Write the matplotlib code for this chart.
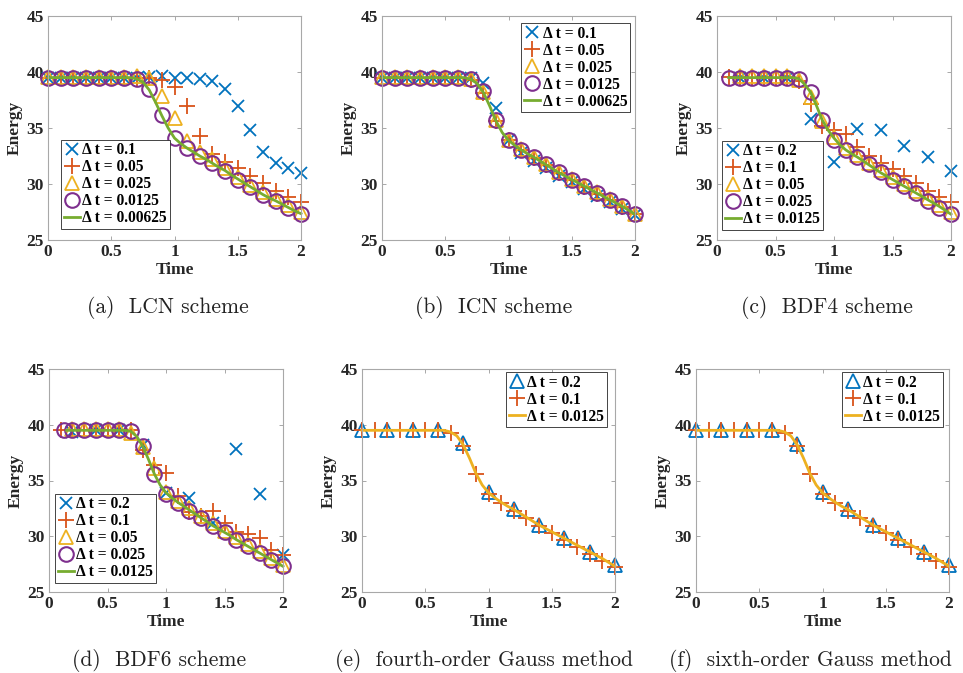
import matplotlib
matplotlib.use("Agg")
import matplotlib.pyplot as plt
import numpy as np

# Energy vs time for six time integrators (LCN, ICN, BDF4, BDF6, Gauss 4/6).
# Values; markers sit at the plotted sample times.

blue = "#0072BD"
orange = "#D95319"
yellow = "#EDB120"
purple = "#7E2F8E"
green = "#77AC30"

t_01 = np.round(np.arange(0, 21) * 0.1, 2)          # 0, 0.1, ..., 2
t_01_from01 = t_01[1:]                              # 0.1, ..., 2
t_01_from02 = t_01[2:]                              # 0.2, ..., 2
t_02_from0 = t_01[::2]                              # 0, 0.2, ..., 2
t_02_from02 = t_01[2::2]                            # 0.2, 0.4, ..., 2
t_005 = np.round(np.arange(0, 41) * 0.05, 2)        # 0, 0.05, ..., 2

# (a) LCN scheme
lcn_dt01 = [39.5, 39.5, 39.5, 39.5, 39.5, 39.5, 39.5, 39.5, 39.55, 39.6, 39.5,
            39.45, 39.35, 39.2, 38.5, 37.0, 34.8, 32.9, 31.9, 31.4, 30.95]
lcn_dt005 = [39.5, 39.5, 39.5, 39.5, 39.5, 39.5, 39.5, 39.5, 39.45, 39.3, 38.7,
             37.0, 34.3, 32.7, 32.0, 31.4, 30.7, 30.1, 29.4, 28.85, 28.4]
lcn_dt0025 = [39.55, 39.55, 39.55, 39.55, 39.55, 39.55, 39.55, 39.6, 39.5, 37.85, 35.9,
              33.8, 32.9, 32.2, 31.4, 30.65, 29.95, 29.25, 28.7, 28.1, 27.5]
lcn_dt00125 = [39.5, 39.5, 39.5, 39.5, 39.5, 39.5, 39.5, 39.35, 38.45, 36.15, 34.1,
               33.2, 32.5, 31.85, 31.2, 30.4, 29.75, 29.05, 28.5, 27.9, 27.35]
lcn_dt000625 = [39.5, 39.5, 39.5, 39.5, 39.5, 39.5, 39.5, 39.5, 39.5, 39.5,
                39.5, 39.5, 39.5, 39.5, 39.4, 39.1, 38.4, 37.3, 36.1, 35.0,
                34.1, 33.6, 33.2, 32.85, 32.5, 32.2, 31.85, 31.5, 31.2, 30.8,
                30.45, 30.1, 29.75, 29.4, 29.05, 28.75, 28.5, 28.2, 27.9, 27.6, 27.35]

# (b) ICN scheme
icn_dt01 = [39.5, 39.5, 39.5, 39.5, 39.5, 39.5, 39.5, 39.5, 39.05, 36.8, 33.9,
            32.75, 32.05, 31.4, 30.75, 30.15, 29.55, 28.95, 28.4, 27.8, 27.2]
icn_dt005 = [39.5, 39.5, 39.5, 39.5, 39.5, 39.5, 39.5, 39.3, 38.1, 35.6, 33.9,
             33.0, 32.35, 31.7, 31.0, 30.35, 29.75, 29.15, 28.55, 27.95, 27.3]
icn_dt0025 = [39.55, 39.55, 39.55, 39.55, 39.55, 39.55, 39.55, 39.4, 38.25, 35.75, 33.95,
              33.1, 32.45, 31.8, 31.1, 30.45, 29.85, 29.25, 28.65, 28.05, 27.35]
icn_dt00125 = [39.5, 39.5, 39.5, 39.5, 39.5, 39.5, 39.5, 39.35, 38.3, 35.7, 33.9,
               33.05, 32.4, 31.75, 31.05, 30.4, 29.8, 29.2, 28.6, 28.0, 27.3]
icn_dt000625 = [39.5, 39.5, 39.5, 39.5, 39.5, 39.5, 39.5, 39.5, 39.5, 39.5,
                39.5, 39.5, 39.5, 39.5, 39.35, 39.0, 38.2, 37.0, 35.65, 34.6,
                33.9, 33.45, 33.05, 32.7, 32.4, 32.05, 31.7, 31.35, 31.0, 30.7,
                30.4, 30.1, 29.8, 29.5, 29.2, 28.9, 28.6, 28.3, 28.0, 27.65, 27.3]

# (c) BDF4 scheme
bdf4_dt02 = [39.5, 39.5, 39.5, 35.8, 32.0, 34.9, 34.8, 33.4, 32.4, 31.2]
bdf4_dt01 = [39.55, 39.5, 39.5, 39.5, 39.5, 39.5, 39.2, 37.1, 35.2, 34.8,
             34.5, 33.3, 32.5, 31.9, 31.35, 30.7, 30.1, 29.4, 28.8, 28.4]
bdf4_dt005 = [39.65, 39.65, 39.65, 39.65, 39.65, 39.3, 37.8, 35.6, 34.2, 33.2,
              32.6, 31.9, 31.25, 30.6, 30.0, 29.4, 28.75, 28.1, 27.5]
bdf4_dt0025 = [39.5, 39.5, 39.5, 39.5, 39.5, 39.5, 39.35, 38.2, 35.7, 33.9,
               33.05, 32.45, 31.75, 31.05, 30.4, 29.8, 29.2, 28.5, 27.9, 27.3]
bdf4_dt00125 = [39.5, 39.5, 39.5, 39.5, 39.5, 39.5, 39.5, 39.5, 39.5, 39.5,
                39.5, 39.5, 39.4, 38.9, 38.2, 37.0, 35.7, 34.8, 34.1, 33.5,
                33.05, 32.7, 32.4, 32.05, 31.7, 31.35, 31.0, 30.7, 30.4, 30.1,
                29.8, 29.5, 29.2, 28.9, 28.6, 28.3, 28.0, 27.65, 27.3]

# (d) BDF6 scheme
t_bdf6_circ = [0.125, 0.2, 0.3, 0.4, 0.5, 0.6, 0.7, 0.8, 0.9, 1.0,
               1.1, 1.2, 1.3, 1.4, 1.5, 1.6, 1.7, 1.8, 1.9, 2.0]
bdf6_dt02 = [39.35, 39.5, 39.5, 38.2, 33.9, 33.4, 31.2, 37.8, 33.8, 28.3]
bdf6_dt01 = [39.5, 39.5, 39.5, 39.5, 39.5, 39.5, 39.5, 37.7, 36.4, 35.7,
             33.6, 32.2, 31.8, 32.3, 31.2, 30.4, 30.2, 29.8, 28.8, 28.3]
bdf6_dt005 = [39.65, 39.65, 39.65, 39.65, 39.65, 39.3, 38.0, 36.1, 34.0, 33.2,
              32.5, 31.8, 31.15, 30.5, 29.9, 29.3, 28.7, 28.05, 27.4]
bdf6_dt0025 = [39.5, 39.5, 39.5, 39.5, 39.5, 39.5, 39.4, 38.1, 35.6, 33.8,
               33.0, 32.3, 31.6, 30.95, 30.35, 29.7, 29.1, 28.5, 27.9, 27.3]
bdf6_dt00125 = [39.5, 39.5, 39.5, 39.5, 39.5, 39.5, 39.5, 39.5, 39.5, 39.5,
                39.5, 39.4, 38.95, 38.1, 36.9, 35.6, 34.6, 33.9, 33.45, 33.05,
                32.7, 32.35, 32.0, 31.65, 31.3, 30.95, 30.65, 30.35, 30.05, 29.7,
                29.4, 29.1, 28.8, 28.5, 28.2, 27.9, 27.6, 27.3]

# (e) fourth-order Gauss, (f) sixth-order Gauss
g4_dt02 = [39.5, 39.5, 39.5, 39.5, 38.4, 34.0, 32.45, 31.05, 29.8, 28.6, 27.4]
g4_dt01 = [39.5, 39.5, 39.5, 39.5, 39.5, 39.5, 39.5, 39.3, 38.1, 35.6, 33.8,
           33.0, 32.3, 31.6, 30.95, 30.3, 29.65, 29.05, 28.4, 27.8, 27.2]
g4_dt00125 = [39.5, 39.5, 39.5, 39.5, 39.5, 39.5, 39.5, 39.5, 39.5, 39.5,
              39.5, 39.5, 39.5, 39.5, 39.35, 39.0, 38.2, 37.0, 35.65, 34.6,
              33.9, 33.45, 33.05, 32.7, 32.4, 32.05, 31.7, 31.35, 31.0, 30.7,
              30.4, 30.1, 29.8, 29.5, 29.2, 28.9, 28.6, 28.3, 28.0, 27.65, 27.3]
g6_dt02 = [39.5, 39.5, 39.5, 39.5, 38.3, 34.0, 32.4, 31.0, 29.8, 28.6, 27.4]
g6_dt01 = [39.5, 39.5, 39.5, 39.5, 39.5, 39.5, 39.5, 39.3, 38.1, 35.6, 33.8,
           33.0, 32.3, 31.6, 30.95, 30.3, 29.65, 29.05, 28.4, 27.8, 27.2]
g6_dt00125 = list(g4_dt00125)

captions = ["(a)  LCN scheme", "(b)  ICN scheme", "(c)  BDF4 scheme",
            "(d)  BDF6 scheme", "(e)  fourth-order Gauss method",
            "(f)  sixth-order Gauss method"]

W, H = 963, 673
tick_font = "Liberation Serif"


def style(kind, color):
    if kind == "x":
        return dict(ls="none", marker="x", ms=9, mew=1.3, color=color)
    if kind == "+":
        return dict(ls="none", marker="+", ms=11, mew=1.3, color=color)
    if kind == "^":
        return dict(ls="none", marker="^", ms=10.5, mew=1.3, mfc="none", color=color)
    if kind == "o":
        return dict(ls="none", marker="o", ms=10.5, mew=1.5, mfc="none", color=color)
    return dict(ls="-", lw=2.0, color=color)


def panel(fig, box, series, caption, cap_xy, leg_loc, leg_xy):
    x0, x1, y0, y1 = box
    ax = fig.add_axes([x0 / W, 1 - y1 / H, (x1 - x0) / W, (y1 - y0) / H])
    for t, e, kind, color, label in series:
        # markers are not clipped at the box, like the MATLAB original
        ax.plot(t, e, label=label, clip_on=False, **style(kind, color))
    ax.set_xlim(0, 2)
    ax.set_ylim(25, 45)
    ax.set_xticks([0, 0.5, 1, 1.5, 2])
    ax.set_xticklabels(["0", "0.5", "1", "1.5", "2"])
    ax.set_yticks([25, 30, 35, 40, 45])
    ax.tick_params(direction="in", length=3, width=0.6, color="#9a9a9a",
                   top=True, right=True, labelsize=12.5, labelcolor="#262626", pad=3)
    for lab in ax.get_xticklabels() + ax.get_yticklabels():
        lab.set_fontfamily(tick_font)
        lab.set_fontweight("bold")
    for sp in ax.spines.values():
        sp.set_color("#a8a8a8")
        sp.set_linewidth(0.8)
    ax.set_xlabel("Time", family=tick_font, fontweight="bold", fontsize=12.5,
                  color="#262626", labelpad=1)
    ax.set_ylabel("Energy", family=tick_font, fontweight="bold", fontsize=12.5,
                  color="#262626", labelpad=3)
    leg = ax.legend(loc=leg_loc, bbox_to_anchor=(leg_xy[0] / W, 1 - leg_xy[1] / H),
                    bbox_transform=fig.transFigure, borderaxespad=0,
                    prop=dict(family=tick_font, weight="bold", size=11.2),
                    handlelength=1.05, handletextpad=0.15, borderpad=0.18,
                    labelspacing=0.06, fancybox=False, framealpha=1,
                    edgecolor="#262626")
    leg.get_frame().set_linewidth(0.6)
    leg.set_zorder(10)
    fig.text(cap_xy[0] / W, 1 - cap_xy[1] / H, caption, family="cmr10",
             fontsize=15.5, ha="center", va="center", color="#222222")
    return ax


def main():
    fig = plt.figure(figsize=(W / 100, H / 100), dpi=100)

    lab5 = ["\u0394 t = 0.1", "\u0394 t = 0.05", "\u0394 t = 0.025",
            "\u0394 t = 0.0125", "\u0394 t = 0.00625"]
    lab5b = ["\u0394 t = 0.2", "\u0394 t = 0.1", "\u0394 t = 0.05",
             "\u0394 t = 0.025", "\u0394 t = 0.0125"]
    lab3 = ["\u0394 t = 0.2", "\u0394 t = 0.1", "\u0394 t = 0.0125"]

    panel(fig, (48, 301, 16, 240),
          [(t_01, lcn_dt01, "x", blue, lab5[0]),
           (t_01, lcn_dt005, "+", orange, lab5[1]),
           (t_01, lcn_dt0025, "^", yellow, lab5[2]),
           (t_01, lcn_dt00125, "o", purple, lab5[3]),
           (t_005, lcn_dt000625, "-", green, lab5[4])],
          captions[0], (168, 308), "lower left", (61, 229))

    panel(fig, (382, 635, 16, 240),
          [(t_01, icn_dt01, "x", blue, lab5[0]),
           (t_01, icn_dt005, "+", orange, lab5[1]),
           (t_01, icn_dt0025, "^", yellow, lab5[2]),
           (t_01, icn_dt00125, "o", purple, lab5[3]),
           (t_005, icn_dt000625, "-", green, lab5[4])],
          captions[1], (494, 308), "upper right", (630, 23))

    panel(fig, (717, 951, 16, 240),
          [(t_02_from02, bdf4_dt02, "x", blue, lab5b[0]),
           (t_01_from01, bdf4_dt01, "+", orange, lab5b[1]),
           (t_01_from02, bdf4_dt005, "^", yellow, lab5b[2]),
           (t_01_from01, bdf4_dt0025, "o", purple, lab5b[3]),
           (t_005[2:], bdf4_dt00125, "-", green, lab5b[4])],
          captions[2], (827, 308), "lower left", (722, 230))

    panel(fig, (49, 283, 369, 592),
          [(t_02_from02, bdf6_dt02, "x", blue, lab5b[0]),
           (t_01_from01, bdf6_dt01, "+", orange, lab5b[1]),
           (t_01_from02, bdf6_dt005, "^", yellow, lab5b[2]),
           (t_bdf6_circ, bdf6_dt0025, "o", purple, lab5b[3]),
           (t_005[3:], bdf6_dt00125, "-", green, lab5b[4])],
          captions[3], (159, 660), "lower left", (55, 583))

    panel(fig, (362, 615, 369, 592),
          [(t_02_from0, g4_dt02, "^", blue, lab3[0]),
           (t_01, g4_dt01, "+", orange, lab3[1]),
           (t_005, g4_dt00125, "-", yellow, lab3[2])],
          captions[4], (484, 660), "upper right", (607, 372))

    panel(fig, (696, 949, 369, 592),
          [(t_02_from0, g6_dt02, "^", blue, lab3[0]),
           (t_01, g6_dt01, "+", orange, lab3[1]),
           (t_005, g6_dt00125, "-", yellow, lab3[2])],
          captions[5], (810, 660), "upper right", (943, 372))

    fig.savefig("out.png", dpi=100)
    plt.close(fig)


if __name__ == "__main__":
    main()
